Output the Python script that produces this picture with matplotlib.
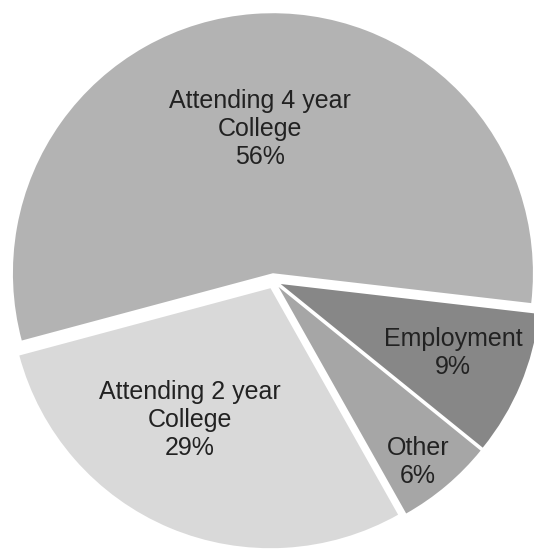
import matplotlib
matplotlib.use("Agg")
import matplotlib.pyplot as plt
import numpy as np

labels = ["Attending 4 year\nCollege", "Attending 2 year\nCollege", "Other", "Employment"]
values = [56, 29, 6, 9]
colors = ["#b3b3b3", "#d9d9d9", "#a6a6a6", "#878787"]
explode = [0.03, 0.03, 0.03, 0.03]
label_dist = [0.587, 0.624, 0.89, 0.745]
label_dang = [0.9, -8.2, -1.5, 1.0]

W, H = 534, 550
fig = plt.figure(figsize=(W / 100, H / 100), dpi=100)
ax = fig.add_axes([0, 0, 1, 1])
R = 260.0
cx, cy = 273.5, H - 281.0

startangle = -6.6
wedges, _ = ax.pie(values, colors=colors, explode=explode, startangle=startangle,
                   counterclock=True, radius=1.0, center=(0, 0), frame=True,
                   wedgeprops=dict(linewidth=0))
ax.set_xlim(-cx / R, (W - cx) / R)
ax.set_ylim(-cy / R, (H - cy) / R)
ax.set_aspect("auto")
ax.axis("off")

total = sum(values)
for w, lab, v, d, da in zip(wedges, labels, values, label_dist, label_dang):
    mid = np.deg2rad((w.theta1 + w.theta2) / 2 + da)
    ax.text(d * np.cos(mid), d * np.sin(mid), f"{lab}\n{round(v / total * 100)}%",
            ha="center", va="center", fontsize=18, color="#222222",
            family=["Liberation Sans", "DejaVu Sans"], linespacing=1.22)

fig.savefig("out.png", dpi=100)
